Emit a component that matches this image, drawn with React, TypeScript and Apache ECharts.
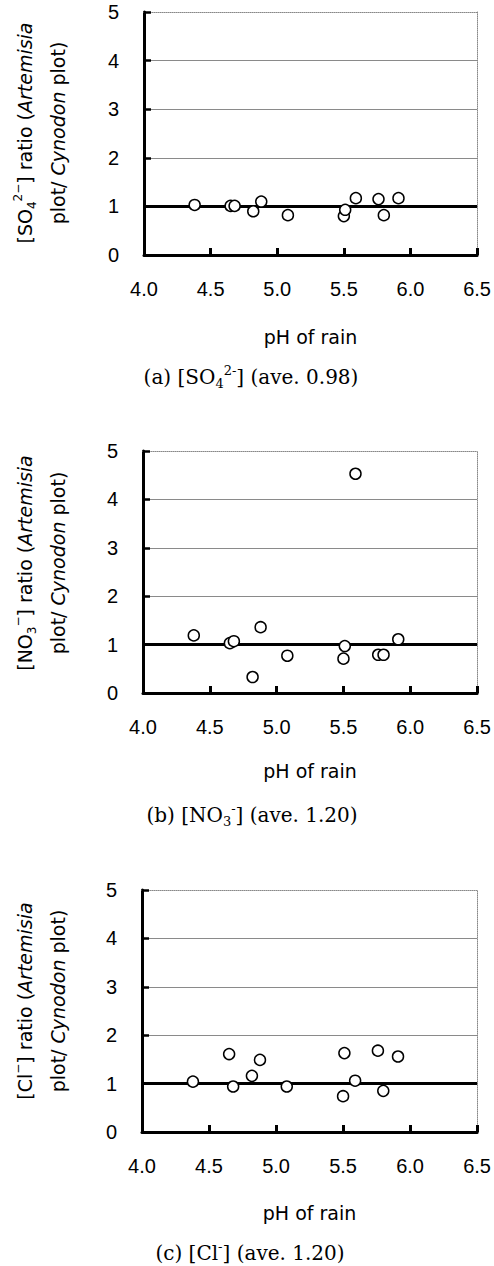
import React, { useEffect, useRef } from "react";
import * as echarts from "echarts";

// pH of each rain event (shared by the three panels)
const PH = [4.38, 4.65, 4.68, 4.82, 4.88, 5.08, 5.5, 5.51, 5.59, 5.76, 5.8, 5.91];
// ratio Artemisia plot / Cynodon plot
const SO4_RATIO = [1.03, 1.01, 1.01, 0.9, 1.1, 0.82, 0.8, 0.93, 1.17, 1.15, 0.82, 1.17];
const NO3_RATIO = [1.19, 1.03, 1.07, 0.33, 1.36, 0.77, 0.71, 0.97, 4.53, 0.79, 0.79, 1.11];
const CL_RATIO = [1.04, 1.61, 0.94, 1.16, 1.49, 0.94, 0.74, 1.63, 1.06, 1.68, 0.85, 1.56];

const X_MIN = 4.0;
const X_MAX = 6.5;
const X_STEP = 0.5;
const Y_MIN = 0;
const Y_MAX = 5;
const Y_STEP = 1;
const REF_RATIO = 1;
const X_NAME = "pH of rain";

const Y_LINE1 = [
  "{n|[SO}{sub|4}{sup|2−}{n|] ratio (}{i|Artemisia}",
  "{n|[NO}{sub|3}{sup|−}{n|] ratio (}{i|Artemisia}",
  "{n|[Cl}{sup|−}{n|] ratio (}{i|Artemisia}",
];
const Y_LINE2 = "{n|plot/ }{i|Cynodon}{n| plot)}";
const CAPTIONS = [
  "{n|(a) [SO}{sub|4}{sup|2-}{n|] (ave. 0.98)}",
  "{n|(b) [NO}{sub|3}{sup|-}{n|] (ave. 1.20)}",
  "{n|(c) [Cl}{sup|-}{n|] (ave. 1.20)}",
];
const SERIES = [SO4_RATIO, NO3_RATIO, CL_RATIO];

// layout (pixels)
const GRIDS = [
  { left: 144, top: 12, width: 339, height: 243 },
  { left: 143, top: 451, width: 341, height: 242 },
  { left: 142, top: 890, width: 341, height: 242 },
];
const NAME_GAPS = [72, 68, 71];
const YNAME_CY = [133, 563, 1001];
const CAPTION_POS = [
  { x: 251, y: 377 },
  { x: 252, y: 815 },
  { x: 250, y: 1253 },
];

const SANS = "Liberation Sans";
const NAME_FONT = "DejaVu Sans";
const SERIF = "DejaVu Serif";

export default function App() {
  const ref = useRef<HTMLDivElement>(null);
  useEffect(() => {
    if (!ref.current) return;
    const chart = echarts.init(ref.current, undefined, { renderer: "svg" });

    const xAxes: any[] = [];
    const yAxes: any[] = [];
    const series: any[] = [];
    const graphic: any[] = [];

    GRIDS.forEach((g, i) => {
      xAxes.push({
        gridIndex: i,
        type: "value",
        min: X_MIN,
        max: X_MAX,
        interval: X_STEP,
        name: X_NAME,
        nameLocation: "middle",
        nameGap: NAME_GAPS[i],
        nameTextStyle: { fontFamily: NAME_FONT, fontSize: 19, color: "#000" },
        axisLine: { show: true, onZero: false, lineStyle: { color: "#000", width: 3 } },
        axisTick: { show: true, inside: true, length: 7, lineStyle: { color: "#000", width: 3 } },
        axisLabel: {
          fontFamily: SANS,
          fontSize: 20,
          color: "#000",
          margin: 24,
          formatter: (v: number) => v.toFixed(1),
        },
        splitLine: { show: false },
      });
      yAxes.push({
        gridIndex: i,
        type: "value",
        min: Y_MIN,
        max: Y_MAX,
        interval: Y_STEP,
        axisLine: { show: true, onZero: false, lineStyle: { color: "#000", width: 3 } },
        axisTick: { show: true, inside: true, length: 7, lineStyle: { color: "#000", width: 2.5 } },
        axisLabel: { fontFamily: SANS, fontSize: 20, color: "#000", margin: 25 },
        splitLine: {
          show: true,
          showMinLine: false,
          showMaxLine: false,
          lineStyle: { color: "#8a8a8a", width: 1 },
        },
      });
    });
    // frame: dotted top / right borders
    GRIDS.forEach((g, i) => {
      xAxes.push({
        gridIndex: i,
        type: "value",
        position: "top",
        min: X_MIN,
        max: X_MAX,
        interval: X_STEP,
        axisLine: { show: true, onZero: false, lineStyle: { color: "#888", width: 1, type: "dotted" } },
        axisTick: { show: false },
        axisLabel: { show: false },
        splitLine: { show: false },
      });
      yAxes.push({
        gridIndex: i,
        type: "value",
        position: "right",
        min: Y_MIN,
        max: Y_MAX,
        interval: Y_STEP,
        axisLine: { show: true, onZero: false, lineStyle: { color: "#888", width: 1, type: "dotted" } },
        axisTick: { show: false },
        axisLabel: { show: false },
        splitLine: { show: false },
      });
    });

    SERIES.forEach((vals, i) => {
      series.push({
        type: "scatter",
        xAxisIndex: i,
        yAxisIndex: i,
        z: 3,
        symbol: "circle",
        symbolSize: 11,
        itemStyle: { color: "#fff", borderColor: "#000", borderWidth: 1.5, opacity: 1 },
        emphasis: { disabled: true },
        data: PH.map((p, k) => [p, vals[k]]),
        markLine: {
          z: 1,
          silent: true,
          symbol: ["none", "none"],
          label: { show: false },
          lineStyle: { color: "#000", width: 3, type: "solid", opacity: 1 },
          data: [{ yAxis: REF_RATIO }],
        },
      });
    });

    const nameRich = {
      n: { fontFamily: NAME_FONT, fontSize: 19, lineHeight: 26, fill: "#000" },
      i: { fontFamily: NAME_FONT, fontSize: 19, lineHeight: 26, fontStyle: "italic", fill: "#000" },
      sub: { fontFamily: NAME_FONT, fontSize: 12, verticalAlign: "bottom", fill: "#000" },
      sup: { fontFamily: NAME_FONT, fontSize: 12, verticalAlign: "top", fill: "#000" },
    };
    const capRich = {
      n: { fontFamily: SERIF, fontSize: 20, lineHeight: 26, fill: "#000" },
      sub: { fontFamily: SERIF, fontSize: 13, verticalAlign: "bottom", fill: "#000" },
      sup: { fontFamily: SERIF, fontSize: 13, verticalAlign: "top", fill: "#000" },
    };

    GRIDS.forEach((g, i) => {
      graphic.push({
        type: "text",
        x: 25,
        y: YNAME_CY[i],
        rotation: Math.PI / 2,
        style: {
          text: Y_LINE1[i],
          rich: nameRich,
          fill: "#000",
          fontFamily: NAME_FONT,
          fontSize: 19,
          align: "center",
          verticalAlign: "middle",
        },
      });
      graphic.push({
        type: "text",
        x: 58,
        y: YNAME_CY[i],
        rotation: Math.PI / 2,
        style: {
          text: Y_LINE2,
          rich: nameRich,
          fill: "#000",
          fontFamily: NAME_FONT,
          fontSize: 19,
          align: "center",
          verticalAlign: "middle",
        },
      });
      graphic.push({
        type: "text",
        x: CAPTION_POS[i].x,
        y: CAPTION_POS[i].y,
        style: {
          text: CAPTIONS[i],
          rich: capRich,
          fill: "#000",
          fontFamily: SERIF,
          fontSize: 20,
          align: "center",
          verticalAlign: "middle",
        },
      });
    });

    chart.setOption({
      animation: false,
      backgroundColor: "#fff",
      grid: GRIDS.map((g) => ({ ...g, containLabel: false })),
      xAxis: xAxes,
      yAxis: yAxes,
      series,
      graphic,
    });
    return () => chart.dispose();
  }, []);

  return (
    <div
      ref={ref}
      style={{ position: "absolute", left: 0, top: 0, width: 494, height: 1266, background: "#fff" }}
    />
  );
}
